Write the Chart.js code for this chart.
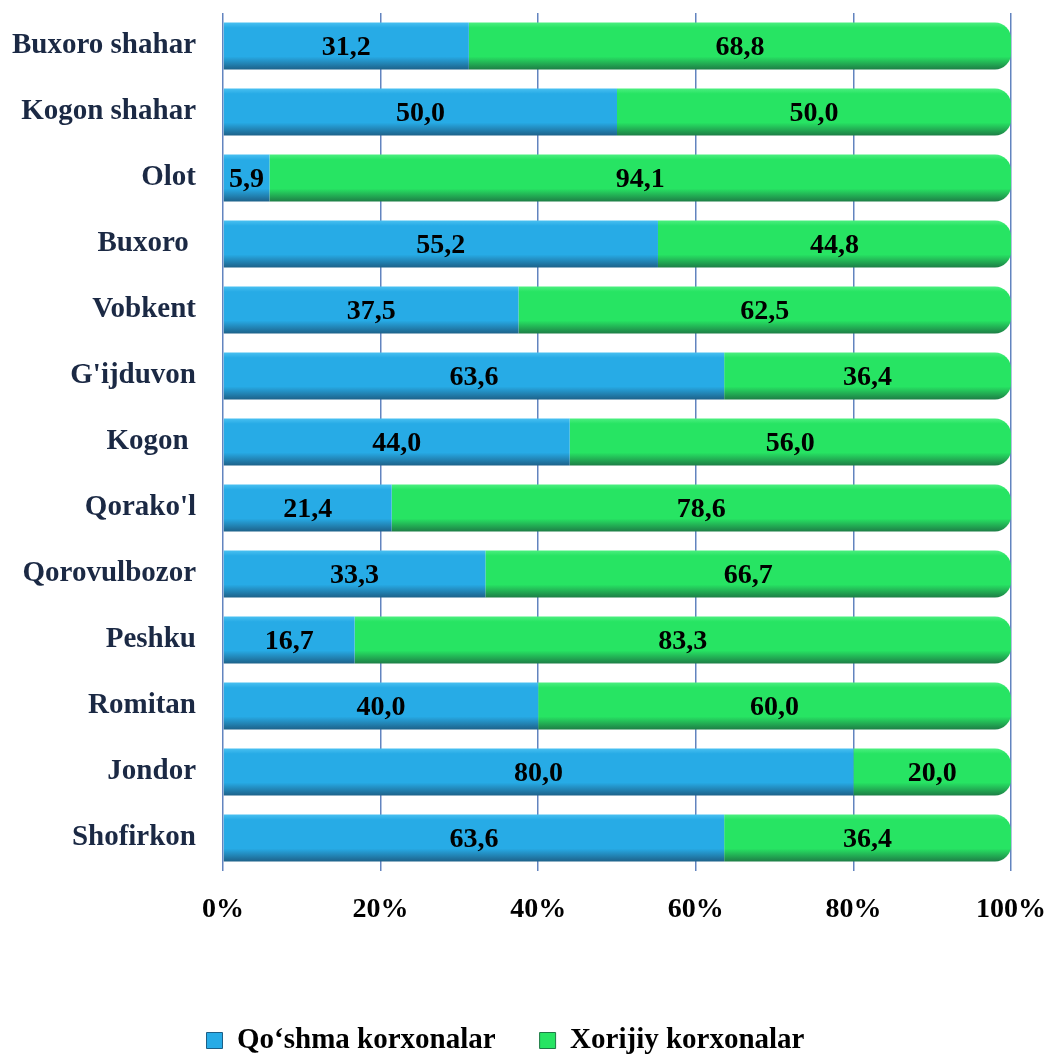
<!DOCTYPE html>
<html>
<head>
<meta charset="utf-8">
<script src="https://cdn.jsdelivr.net/npm/chart.js@4"></script>
<style>
  html, body { margin: 0; padding: 0; background: #fff; }
  #wrap { width: 1053px; height: 1054px; }
</style>
</head>
<body>
<div id="wrap"><canvas id="chart"></canvas></div>
<script>
const districts = ["Buxoro shahar", "Kogon shahar", "Olot", "Buxoro ", "Vobkent", "G'ijduvon", "Kogon ",
  "Qorako'l", "Qorovulbozor", "Peshku", "Romitan", "Jondor", "Shofirkon"];
const jointShare = [31.2, 50.0, 5.9, 55.2, 37.5, 63.6, 44.0, 21.4, 33.3, 16.7, 40.0, 80.0, 63.6];
const foreignShare = [68.8, 50.0, 94.1, 44.8, 62.5, 36.4, 56.0, 78.6, 66.7, 83.3, 60.0, 20.0, 36.4];
const xTicks = [0, 20, 40, 60, 80, 100];

const serif = "'Liberation Serif', 'Times New Roman', serif";

// vertical shading per bar, darker at the bottom edge
const shade = (top, mid, bottom) => (ctx) => {
  const chart = ctx.chart;
  const y = chart.scales.y;
  if (!y || ctx.dataIndex === undefined) return mid;
  const c = y.getPixelForValue(ctx.dataIndex);
  const h = 24;
  const g = chart.ctx.createLinearGradient(0, c - h, 0, c + h);
  g.addColorStop(0, top);
  g.addColorStop(0.12, mid);
  g.addColorStop(0.72, mid);
  g.addColorStop(1, bottom);
  return g;
};

const valueLabels = {
  id: "valueLabels",
  afterDatasetsDraw(chart) {
    const { ctx } = chart;
    ctx.save();
    ctx.font = "bold 28px " + serif;
    ctx.fillStyle = "#000";
    ctx.textAlign = "center";
    ctx.textBaseline = "middle";
    chart.data.datasets.forEach((ds, i) => {
      chart.getDatasetMeta(i).data.forEach((bar, j) => {
        const x = (bar.x + bar.base) / 2;
        ctx.fillText(ds.data[j].toFixed(1).replace(".", ","), x, bar.y + 2);
      });
    });
    ctx.restore();
  }
};

// fixed legend height so the plot keeps its place
const legendHeight = {
  id: "legendHeight",
  beforeLayout(chart) {
    const lg = chart.legend;
    if (!lg || lg._patched) return;
    const fit = lg.fit.bind(lg);
    lg.fit = function () { fit(); this.height = 72; };
    lg._patched = true;
  }
};

new Chart(document.getElementById("chart"), {
  type: "bar",
  data: {
    labels: districts,
    datasets: [
      {
        label: "Qo\u2018shma korxonalar",
        data: jointShare,
        backgroundColor: shade("#4cc2f2", "#27abe6", "#1d5f86"),
        borderRadius: 2,
        barPercentage: 0.71,
        categoryPercentage: 1
      },
      {
        label: "Xorijiy korxonalar",
        data: foreignShare,
        backgroundColor: shade("#4ff082", "#27e463", "#1d7a45"),
        borderRadius: { topRight: 16, bottomRight: 16 },
        borderSkipped: "start",
        barPercentage: 0.71,
        categoryPercentage: 1
      }
    ]
  },
  options: {
    indexAxis: "y",
    responsive: true,
    maintainAspectRatio: false,
    animation: false,
    layout: { padding: { top: 13, right: 42, left: 0, bottom: 0 } },
    scales: {
      x: {
        stacked: true,
        min: 0,
        max: 100,
        z: 1,
        afterBuildTicks: (scale) => { scale.ticks = xTicks.map(v => ({ value: v })); },
        afterFit: (scale) => {
          scale.height = 111;
          scale.paddingLeft = 0;
          scale.paddingRight = 0;
        },
        grid: { color: "rgba(70,110,180,0.85)", lineWidth: 1.5, drawTicks: false },
        border: { display: false },
        ticks: {
          padding: 22,
          color: "#000",
          font: { family: serif, size: 28, weight: "bold" },
          callback: (v) => v + "%"
        }
      },
      y: {
        stacked: true,
        afterFit: (scale) => {
          scale.width = 223;
          scale.paddingTop = 0;
          scale.paddingBottom = 0;
        },
        grid: { display: false },
        border: { display: false },
        ticks: {
          padding: 19,
          color: "#1b2944",
          font: { family: serif, size: 29, weight: "bold" }
        }
      }
    },
    plugins: {
      legend: {
        position: "bottom",
        labels: {
          color: "#000",
          boxWidth: 16,
          boxHeight: 16,
          padding: 44,
          font: { family: serif, size: 29, weight: "bold" },
          generateLabels: (chart) => chart.data.datasets.map((ds, i) => ({
            text: ds.label,
            fillStyle: i === 0 ? "#27abe6" : "#27e463",
            strokeStyle: i === 0 ? "#1d5f86" : "#1d7a45",
            lineWidth: 1,
            datasetIndex: i
          }))
        }
      },
      tooltip: { enabled: false }
    }
  },
  plugins: [valueLabels, legendHeight]
});
</script>
</body>
</html>
